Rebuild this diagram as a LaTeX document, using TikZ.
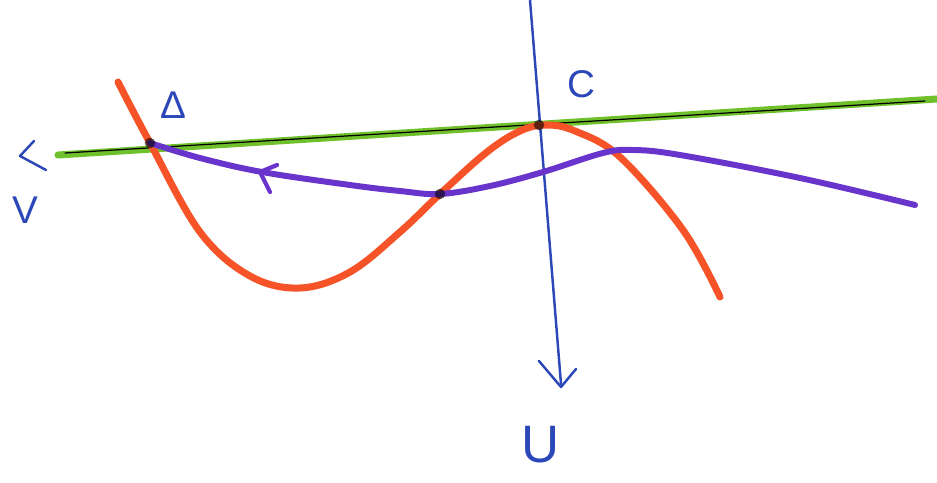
\documentclass[tikz,border=0pt]{standalone}
\usepackage{fontspec}
\newfontfamily\handfont{Liberation Sans}
\definecolor{vgreen}{RGB}{112,192,44}
\definecolor{cred}{RGB}{246,84,40}
\definecolor{ppurple}{RGB}{104,52,204}
\definecolor{axblue}{RGB}{44,72,184}
\tikzset{lab/.style={text=axblue, font=\handfont\fontsize{22}{24}\selectfont, inner sep=0pt}}
\begin{document}
\begin{tikzpicture}[x=0.02cm, y=-0.02cm, line join=round, line cap=round]
			\useasboundingbox (0,0) rectangle (937,483);
			\coordinate (D) at (150,143); \coordinate (M) at (440,194); \coordinate (C) at (539,125);
			\coordinate (vL) at (58,155); \coordinate (vR) at (937,99);
			\coordinate (uT) at (530,0); \coordinate (uB) at (561,384);
			% V axis
			\draw[vgreen, line width=4pt] (vL)--(vR);
			\draw[black, line width=0.7pt] (65,153)--(925,101);
			\draw[axblue, line width=1.4pt] (34,141)--(20,156)--(46,170);
			% U axis
			\draw[axblue, line width=1.4pt] (uT)--(uB);
			\draw[axblue, line width=1.4pt] (539,361)--(561,387)--(576,369);
			% curves
			\draw[cred, line width=4pt] plot[smooth, tension=0.6] coordinates {(118,82) (D) (200,232) (250,276) (300,288) (350,272) (400,232) (M) (487,152) (520,131) (546,125) (575,131) (620,157) (683,230) (720,297)};
			\draw[ppurple, line width=3.4pt] plot[smooth, tension=0.6] coordinates {(D) (200,158) (262,172) (350,185) (400,191) (M) (490,186) (543,172) (603,153) (633,150) (680,155) (800,178) (915,205)};
			\draw[ppurple, line width=2.4pt] (277,165)--(260,172)--(270,192);
			\fill[black, opacity=0.6] (D) circle (3pt) (M) circle (3pt) (C) circle (3pt);
			\path
			(173,105) node[lab] (lD) {Δ}
			(581,84) node[lab] (lC) {C}
			(25,210) node[lab] (lV) {V}
			(541,445) node[lab, font=\handfont\fontsize{30}{32}\selectfont] (lU) {U};
		\end{tikzpicture}
\end{document}
